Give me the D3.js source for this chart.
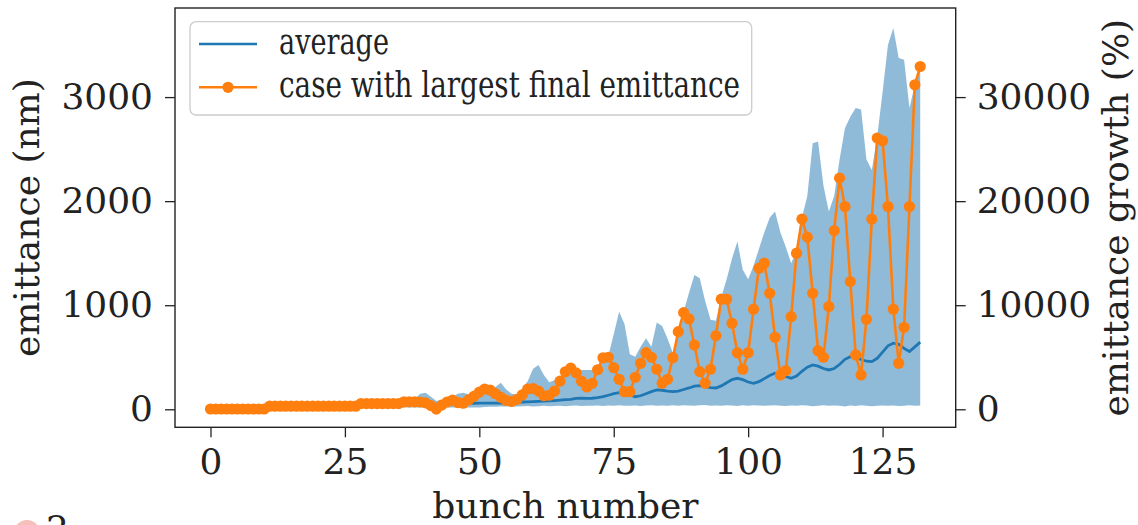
<!DOCTYPE html>
<html><head><meta charset="utf-8">
<script src="https://cdn.jsdelivr.net/npm/d3@7"></script>
<style>
html,body{margin:0;padding:0;background:#fff;overflow:hidden;}
svg{display:block;}
text{font-family:"DejaVu Serif",serif;fill:#222;}
</style></head>
<body>
<svg id="chart" width="1138" height="525"></svg>
<script>
// ---------- data ----------
const bunches = d3.range(0, 133);
const caseLargest = [
 3,3,3,3,3,3,3,3,3,3,3,
 30,30,30,30,30,30,30,30,30,30,30,30,30,30,30,30,30,
 55,55,55,55,55,55,55,55,
 72,72,72,70,62,
 35,2,40,70,88,65,58,90,125,165,195,185,150,115,85,75,95,140,195,200,175,130,135,175,
 270,360,395,350,270,215,250,380,495,500,400,
 288,169,169,308,442,544,500,385,250,288,496,746,929,868,618,362,250,385,708,1058,1058,827,544,385,544,962,1356,1404,1115,
 692,330,371,890,1500,1827,1654,1115,563,500,987,1717,2221,1948,1227,522,330,865,1827,2606,2580,1948,962,442,788,1948,3118,3294
];
const average = [
 3,3,3,3,3,3,3,3,3,3,3,
 24,24,24,24,24,24,24,24,24,24,24,24,24,24,24,24,24,
 42,42,42,42,42,42,42,42,
 50,52,52,53,52,50,48,48,50,52,53,54,56,58,60,60,60,60,60,62,64,66,70,72,74,76,78,80,84,
 89,92,96,104,106,104,106,112,121,135,150,160,152,138,121,130,150,170,186,183,175,169,175,190,205,222,228,218,208,205,
 225,255,285,298,285,262,250,265,295,325,346,340,315,298,320,365,405,426,415,392,378,392,430,480,506,500,480,462,458,
 490,550,610,635,625,585,555,600,645
];
const envelopeMax = [
 8,8,8,8,8,8,8,8,8,8,8,
 36,36,36,36,36,36,36,36,36,36,36,36,36,36,62,40,38,
 62,62,62,62,62,62,62,62,
 78,78,100,150,158,120,80,90,110,120,150,160,145,150,175,205,195,215,256,190,150,140,200,270,390,426,330,260,280,
 300,378,400,380,378,378,378,395,500,515,720,938,820,530,506,600,683,600,833,800,680,540,760,940,1120,1290,1260,1040,860,850,
 1080,1250,1450,1612,1340,1250,1380,1540,1700,1840,1900,1700,1560,1404,1520,1840,2050,2557,2573,2150,1900,2050,2400,2700,2810,2894,2880,2400,2300,
 2620,3050,3500,3663,3375,3358,2894,3118,3294
];
const envelopeMin = [
 1,1,1,1,1,1,1,1,1,1,1,
 12,12,12,12,12,12,12,12,12,12,12,12,12,12,12,12,12,
 15,15,15,15,15,15,15,15,
 18,18,18,18,18,18,18,18,18,18,18,18,18,18,18,
 22,25,24,28,26,30,27,29,32,28,30,33,29,31,34,30,33,36,31,35,33,37,32,36,34,38,33,35,37,32,36,39,34,37,33,38,35,40,
 36,33,38,41,35,37,34,39,36,32,38,35,40,37,33,36,39,35,31,37,34,38,36,30,35,39,33,37,34,28,36,32,38,35,30,34,37,33,36,31,35,38,34,
 36,32,37
];
const xTicks = [0, 25, 50, 75, 100, 125];
const yTicksLeft = [0, 1000, 2000, 3000];
const yTicksRight = [0, 10000, 20000, 30000];
const labels = {x: "bunch number", yLeft: "emittance (nm)", yRight: "emittance growth (%)"};
const legendItems = ["average", "case with largest final emittance"];

// ---------- layout ----------
const svg = d3.select("#chart");
const L = 175, R = 955.7, T = 8, B = 427.3;
const blue = "#1f77b4", orange = "#ff7f0e";

const x = d3.scaleLinear().domain([-6.6, 138.6]).range([L, R]);
const y = d3.scaleLinear().domain([-173, 3856]).range([B, T]);
const y2 = d3.scaleLinear().domain([-1730, 38560]).range([B, T]);

const rows = bunches.map((b, i) => ({b, avg: average[i], c: caseLargest[i], lo: envelopeMin[i], hi: envelopeMax[i]}));

svg.append("clipPath").attr("id", "clip").append("rect")
  .attr("x", L).attr("y", T).attr("width", R - L).attr("height", B - T);

const plot = svg.append("g").attr("clip-path", "url(#clip)");

plot.append("path").datum(rows)
  .attr("d", d3.area().x(d => x(d.b)).y0(d => y(d.lo)).y1(d => y(d.hi)))
  .attr("fill", blue).attr("fill-opacity", 0.5);

plot.append("path").datum(rows)
  .attr("d", d3.line().x(d => x(d.b)).y(d => y(d.avg)))
  .attr("fill", "none").attr("stroke", blue).attr("stroke-width", 2.8);

plot.append("path").datum(rows)
  .attr("d", d3.line().x(d => x(d.b)).y(d => y(d.c)))
  .attr("fill", "none").attr("stroke", orange).attr("stroke-width", 2.6);

plot.selectAll("circle.m").data(rows).enter().append("circle")
  .attr("class", "m").attr("cx", d => x(d.b)).attr("cy", d => y(d.c)).attr("r", 5.6)
  .attr("fill", orange);

// ---------- axes ----------
const fs = 36;
const axL = svg.append("g").attr("transform", `translate(${L},0)`)
  .call(d3.axisLeft(y).tickValues(yTicksLeft).tickSize(10).tickPadding(12).tickFormat(d3.format("d")));
const axR = svg.append("g").attr("transform", `translate(${R},0)`)
  .call(d3.axisRight(y2).tickValues(yTicksRight).tickSize(10).tickPadding(11).tickFormat(d3.format("d")));
const axB = svg.append("g").attr("transform", `translate(0,${B})`)
  .call(d3.axisBottom(x).tickValues(xTicks).tickSize(10).tickPadding(19).tickFormat(d3.format("d")));
[axL, axR, axB].forEach(a => {
  a.select(".domain").remove();
  a.selectAll(".tick line").attr("stroke", "#222").attr("stroke-width", 1.3);
  a.selectAll(".tick text").attr("font-size", fs).attr("font-family", "DejaVu Serif").attr("fill", "#222");
});
axB.selectAll(".tick text").attr("dy", "0").attr("y", 47);

// frame
svg.append("rect").attr("x", L).attr("y", T).attr("width", R - L).attr("height", B - T)
  .attr("fill", "none").attr("stroke", "#222").attr("stroke-width", 1.4);

// axis labels
svg.append("text").attr("x", (L + R) / 2).attr("y", 518).attr("text-anchor", "middle")
  .attr("font-size", fs).text(labels.x);
svg.append("text").attr("transform", `translate(38.5,${(T + B) / 2}) rotate(-90)`).attr("text-anchor", "middle")
  .attr("font-size", fs).text(labels.yLeft);
svg.append("text").attr("transform", `translate(1128,${(T + B) / 2}) rotate(-90)`).attr("text-anchor", "middle")
  .attr("font-size", fs).text(labels.yRight);

// ---------- legend ----------
const lg = svg.append("g");
lg.append("rect").attr("x", 190).attr("y", 21.7).attr("width", 561.7).attr("height", 93.3)
  .attr("rx", 6).attr("fill", "#fff").attr("fill-opacity", 0.8).attr("stroke", "#cccccc").attr("stroke-width", 1.3);
const rowY = [44, 87.3];
const textLens = [110, 461];
lg.append("line").attr("x1", 199).attr("x2", 257).attr("y1", rowY[0]).attr("y2", rowY[0])
  .attr("stroke", blue).attr("stroke-width", 2.6);
lg.append("line").attr("x1", 199).attr("x2", 257).attr("y1", rowY[1]).attr("y2", rowY[1])
  .attr("stroke", orange).attr("stroke-width", 2.6);
lg.append("circle").attr("cx", 228).attr("cy", rowY[1]).attr("r", 5.6).attr("fill", orange);
legendItems.forEach((t, i) => {
  lg.append("text").attr("x", 279).attr("y", rowY[i] + 10).attr("font-size", 35)
    .attr("textLength", textLens[i]).attr("lengthAdjust", "spacingAndGlyphs").text(t);
});

// cropped fragment of next panel at bottom-left
svg.append("circle").attr("cx", 27).attr("cy", 533).attr("r", 13).attr("fill", "#f08a80").attr("fill-opacity", 0.55);
svg.append("text").attr("x", 46).attr("y", 541).attr("font-size", fs).text("2");
</script>
</body></html>
